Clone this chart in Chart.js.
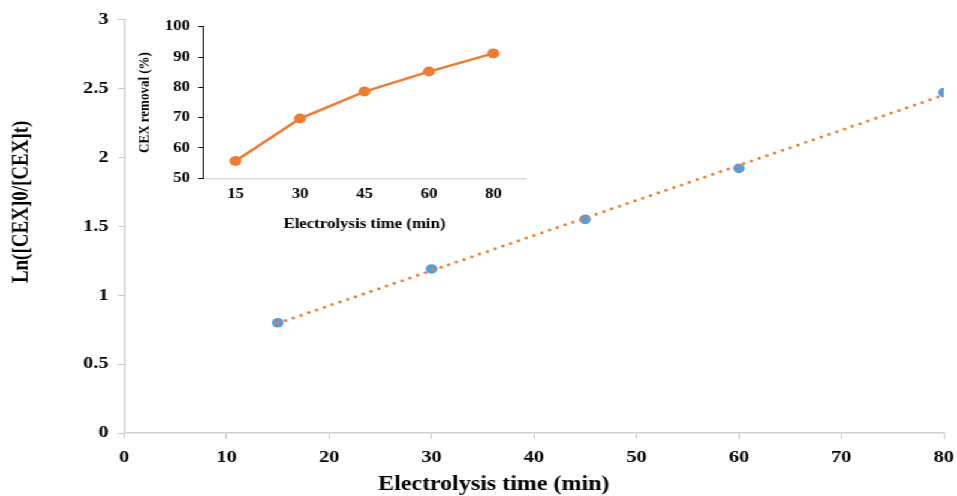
<!DOCTYPE html>
<html>
<head>
<meta charset="utf-8">
<script src="https://cdn.jsdelivr.net/npm/chart.js@4"></script>
<style>
  html, body { margin: 0; padding: 0; background: #fff; overflow: hidden; }
  /* the source picture is stretched sideways, so draw narrow and scale up */
  #wrap { position: absolute; left: 0; top: 0; width: 798px; height: 496px;
          transform: scaleX(1.1992); transform-origin: 0 0; }
  #mainBox { position: absolute; left: 0; top: 0; }
  #insetBox { position: absolute; left: 105px; top: 5px; }
</style>
</head>
<body>
<div id="wrap">
  <div id="mainBox"><canvas id="mainChart" width="798" height="496"></canvas></div>
  <div id="insetBox"><canvas id="insetChart" width="345" height="235"></canvas></div>
</div>
<script>
// main plot: ln(C0/Ct) vs time
const mainTimes = [15, 30, 45, 60, 80];
const lnRatio = [0.80, 1.19, 1.55, 1.92, 2.47];

// inset: removal % vs time
const insetTimes = ['15', '30', '45', '60', '80'];
const removalPct = [55.7, 69.7, 78.6, 85.2, 91.2];

const serif = "'Liberation Serif', 'Times New Roman', serif";
const BLUE = '#5b9bd5';
const ORANGE = '#ed7d31';

// linear trendline through the measured points
function linearFit(xs, ys) {
    const n = xs.length;
    const mx = xs.reduce((a, b) => a + b, 0) / n;
    const my = ys.reduce((a, b) => a + b, 0) / n;
    let sxy = 0, sxx = 0;
    for (let i = 0; i < n; i++) {
        sxy += (xs[i] - mx) * (ys[i] - my);
        sxx += (xs[i] - mx) * (xs[i] - mx);
    }
    const slope = sxy / sxx;
    return x => my + slope * (x - mx);
}

const fit = linearFit(mainTimes, lnRatio);
const xFirst = mainTimes[0];
const xLast = mainTimes[mainTimes.length - 1];
const trendPoints = [
    { x: xFirst, y: fit(xFirst) },
    { x: xLast, y: fit(xLast) }
];

// the main axis titles sit off-centre in the original, so draw them here
const offsetTitles = {
    id: 'offsetTitles',
    afterDraw(chart, args, opts) {
        const { ctx, chartArea: a } = chart;
        ctx.save();
        ctx.fillStyle = '#000';
        ctx.textAlign = 'center';
        ctx.textBaseline = 'middle';

        ctx.font = `bold ${opts.x.size}px ${serif}`;
        ctx.fillText(opts.x.text, a.left + opts.x.along * (a.right - a.left), opts.x.y);

        ctx.translate(opts.y.x, a.top + opts.y.along * (a.bottom - a.top));
        ctx.rotate(-Math.PI / 2);
        ctx.font = `bold ${opts.y.size}px ${serif}`;
        ctx.fillText(opts.y.text, 0, 0);
        ctx.restore();
    }
};

new Chart(document.getElementById('mainChart').getContext('2d'), {
    type: 'scatter',
    data: {
        datasets: [
            {
                type: 'line',
                data: trendPoints,
                borderColor: ORANGE,
                borderWidth: 3,
                borderDash: [0, 7],
                borderCapStyle: 'round',
                pointRadius: 0,
                fill: false,
                order: 0
            },
            {
                data: mainTimes.map((t, i) => ({ x: t, y: lnRatio[i] })),
                backgroundColor: BLUE,
                borderWidth: 0,
                pointRadius: 4.8,
                order: 1
            }
        ]
    },
    plugins: [offsetTitles],
    options: {
        responsive: false,
        animation: false,
        layout: { padding: { top: 19.5, right: 11, left: 0, bottom: 0 } },
        plugins: {
            legend: { display: false },
            tooltip: { enabled: false },
            offsetTitles: {
                x: { text: 'Electrolysis time (min)', size: 20, along: 0.451, y: 485 },
                y: { text: 'Ln([CEX]0/[CEX]t)', size: 19, along: 0.441, x: 18 }
            }
        },
        scales: {
            x: {
                type: 'linear',
                min: 0,
                max: 80,
                ticks: { stepSize: 10, color: '#000', padding: 8, maxRotation: 0,
                         font: { family: serif, size: 17, weight: 'bold' } },
                grid: { drawOnChartArea: false, color: '#c8c8c8', tickLength: 6 },
                border: { color: '#d0d0d0', width: 1.5 },
                afterFit: s => { s.height = 63; s.paddingLeft = 0; s.paddingRight = 0; }
            },
            y: {
                min: 0,
                max: 3,
                ticks: { stepSize: 0.5, color: '#000', padding: 8,
                         callback: v => String(v),
                         font: { family: serif, size: 17, weight: 'bold' } },
                grid: { drawOnChartArea: false, color: '#c8c8c8', tickLength: 5 },
                border: { color: '#d0d0d0', width: 1.5 },
                afterFit: s => { s.width = 103.5; }
            }
        }
    }
});

new Chart(document.getElementById('insetChart').getContext('2d'), {
    type: 'line',
    data: {
        labels: insetTimes,
        datasets: [{
            data: removalPct,
            borderColor: ORANGE,
            backgroundColor: ORANGE,
            borderWidth: 2.5,
            pointRadius: 5,
            pointBorderWidth: 0,
            tension: 0,
            fill: false
        }]
    },
    options: {
        responsive: false,
        animation: false,
        layout: { padding: { top: 21.7, right: 11.7, left: 0, bottom: 0 } },
        plugins: { legend: { display: false }, tooltip: { enabled: false } },
        scales: {
            x: {
                offset: true,
                ticks: { color: '#000', padding: 8, maxRotation: 0,
                         font: { family: serif, size: 14, weight: 'bold' } },
                grid: { drawOnChartArea: false, drawTicks: false },
                border: { color: '#d9d9d9', width: 1.5 },
                title: {
                    display: true,
                    text: 'Electrolysis time (min)',
                    color: '#000',
                    font: { family: serif, size: 14, weight: 'bold', lineHeight: 1 },
                    padding: { top: 0, bottom: 9 }
                },
                afterFit: s => { s.height = 61.7; }
            },
            y: {
                min: 50,
                max: 100,
                ticks: { stepSize: 10, color: '#000', padding: 7,
                         font: { family: serif, size: 14, weight: 'bold' } },
                grid: { drawOnChartArea: false, color: '#000', tickLength: 4 },
                border: { color: '#000', width: 1 },
                title: {
                    display: true,
                    text: 'CEX removal (%)',
                    color: '#000',
                    font: { family: serif, size: 13, weight: 'bold', lineHeight: 1 },
                    padding: { top: 9.5, bottom: 0 }
                },
                afterFit: s => { s.width = 64.5; }
            }
        }
    }
});
</script>
</body>
</html>
